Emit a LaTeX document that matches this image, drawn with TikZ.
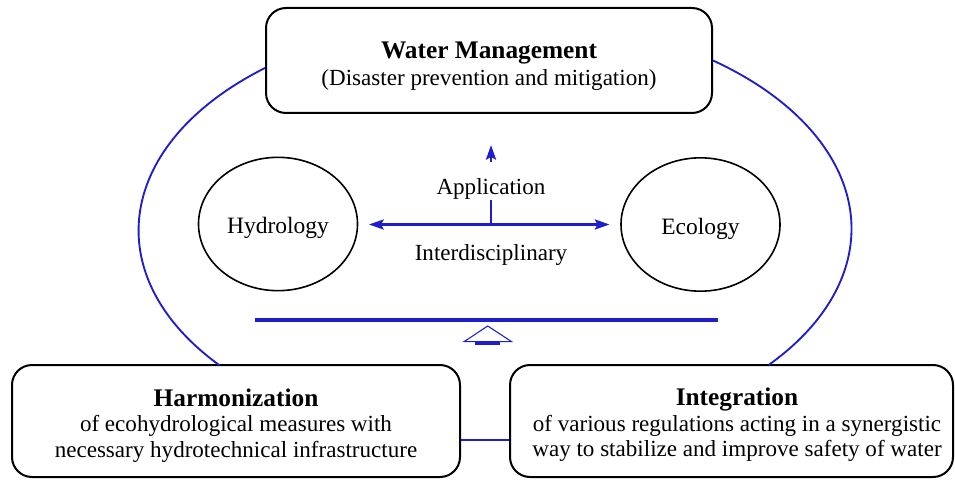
\documentclass[tikz,border=0pt]{standalone}
\usepackage{fontspec}
\setmainfont{Liberation Serif}
\usetikzlibrary{arrows.meta,calc,shapes.geometric}
\definecolor{mblue}{RGB}{30,30,205}
\newcommand\mytitle{\fontsize{19}{20.25}\selectfont\bfseries}
\begin{document}
\begin{tikzpicture}[x=0.75pt,y=0.75pt,
  box/.style={draw=black, line width=1.5pt, rounded corners=15pt, inner sep=0pt},
  txt/.style={align=center, inner sep=0pt, font=\fontsize{17.3}{20.25}\selectfont},
  circ/.style={draw=black, ellipse, line width=1.2pt, inner sep=0pt,
    minimum width=119.25pt, minimum height=100pt, text height=18pt, text depth=3.75pt,
    font=\fontsize{17.6}{20.25}\selectfont},
  lbl/.style={inner xsep=2pt, inner ysep=0.5pt, font=\fontsize{17.3}{20.25}\selectfont},
  bline/.style={draw=mblue, line width=2pt},
  mytip/.tip={Stealth[length=11pt, width=7.5pt, inset=2pt]},
  arcline/.style={draw=mblue, line width=1.4pt}]
\useasboundingbox (0,0) rectangle (955,479);

% boxes
\node[box, minimum width=334.5pt, minimum height=78.75pt] (wm) at (489,418.5) {};
\node[txt] (wmt) at (489,412.5) {{\mytitle Water Management}\\(Disaster prevention and mitigation)};

\node[box, minimum width=336pt, minimum height=84pt] (harm) at (236,58) {};
\node[txt, font=\fontsize{17.3}{18.9}\selectfont] (harmt) at (236,53.5)
  {{\fontsize{19}{18.9}\selectfont\bfseries Harmonization}\\of ecohydrological measures with\\necessary hydrotechnical infrastructure};

\node[box, minimum width=332.25pt, minimum height=84pt] (integ) at (731.5,58) {};
\node[txt, font=\fontsize{17.3}{19.1}\selectfont] (integt) at (737,54.2)
  {{\fontsize{19}{19.1}\selectfont\bfseries Integration}\\of various regulations acting in a synergistic\\ way to stabilize and improve safety of water};

% ellipses
\node[circ] (hyd) at (278,255) {Hydrology};
\node[circ] (eco) at (700.5,254.5) {Ecology};

% arrows
\coordinate (jn) at (491,254.5);
\coordinate (apptop) at (491,317);
\coordinate (apptip) at (491,334);
\node[lbl] (app) at (491,290) {Application};
\node[lbl] (idl) at (491,224) {Interdisciplinary};
\draw[bline, mytip-mytip, shorten <=8pt, shorten >=8pt] (hyd.east |- jn) -- (eco.west |- jn);
\draw[bline] (jn) -- (app.south);
\draw[bline, -mytip] (apptop) -- (apptip);

% thick line and symbol
\draw[mblue, line width=2.6pt] (255,159) -- (718,159);
\draw[mblue, line width=0.8pt, line join=miter] (464,137.3) -- (487.7,153) -- (511.7,137.3) -- cycle;
\fill[mblue] (475,134.3) rectangle (500,138);

% big arcs
\draw[arcline] ($(wm.west)+(0,-7.5)$) arc[start angle=130, end angle=219.5, x radius=354, y radius=212];
\draw[arcline] (wm.east) arc[start angle=52.5, end angle=-40, x radius=354, y radius=212];

% connector between bottom boxes
\draw[mblue, line width=1.6pt] ($(harm.east)+(0,-19)$) -- ($(integ.west)+(0,-19)$);
\end{tikzpicture}
\end{document}
